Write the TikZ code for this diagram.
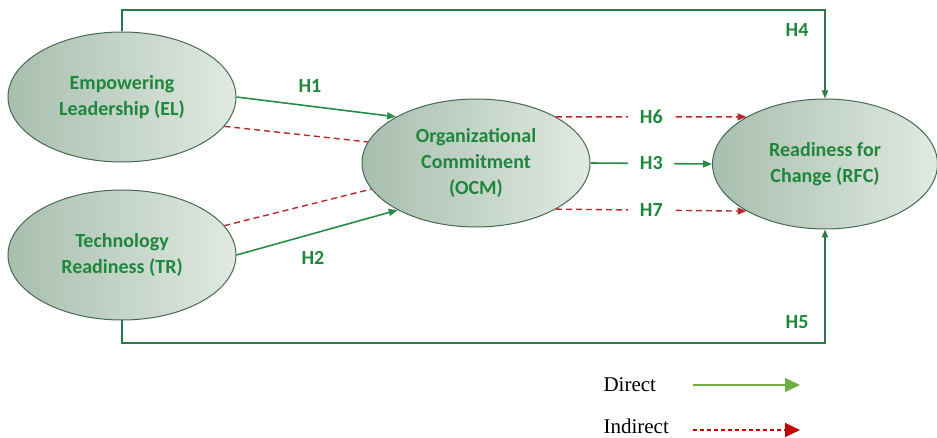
\documentclass[tikz,border=0pt]{standalone}
\usepackage{fontspec}
\setmainfont{Liberation Serif}
\newfontfamily\calib{Carlito}
\usetikzlibrary{shapes.geometric,arrows.meta}
\definecolor{txtgreen}{RGB}{30,135,60}
\definecolor{edgegreen}{RGB}{70,105,82}
\definecolor{fillleft}{RGB}{168,190,174}
\definecolor{fillright}{RGB}{224,234,226}
\definecolor{linegreen}{RGB}{40,140,70}
\definecolor{framegreen}{RGB}{45,120,75}
\definecolor{dashred}{RGB}{185,40,45}
\definecolor{legdgreen}{RGB}{112,173,71}
\definecolor{legdred}{RGB}{192,0,0}
\tikzset{
  construct/.style={ellipse,draw=edgegreen,line width=1pt,left color=fillleft,
    right color=fillright,inner sep=0pt,minimum width=228pt,minimum height=130pt,
    align=center,text=txtgreen,font=\calib\bfseries\fontsize{20}{26}\selectfont},
  hlabel/.style={text=txtgreen,inner sep=3pt,font=\calib\bfseries\fontsize{20}{24}\selectfont},
  hbox/.style={hlabel,fill=white,minimum width=46pt,minimum height=32pt},
  direct/.style={draw=linegreen,line width=1.6pt,-{Triangle[length=9pt,width=7pt]}},
  indirect/.style={draw=dashred,line width=1.4pt,dash pattern=on 6pt off 4pt},
  framewire/.style={draw=framegreen,line width=1.6pt},
  legtext/.style={anchor=west,font=\fontsize{21}{24}\selectfont},
}
\begin{document}
\begin{tikzpicture}[x=1pt,y=-1pt]
  \useasboundingbox (0,0) rectangle (937,438);
  % the four constructs
  \node[construct] (EL) at (122,97) {Empowering\\Leadership (EL)};
  \node[construct] (TR) at (122,255) {Technology\\Readiness (TR)};
  \node[construct,minimum width=228pt,minimum height=128pt] (OCM) at (476,163) {Organizational\\Commitment\\(OCM)};
  \node[construct,minimum width=225pt] (RFC) at (825,164) {Readiness for\\Change (RFC)};
  % direct paths H1, H2
  \draw[direct] (EL.east) -- (OCM.150);
  \draw[direct] (TR.east) -- (OCM.211);
  \node[hlabel] (h1) at (310,86) {H1};
  \node[hlabel] (h2) at (313,258) {H2};
  % indirect links into the mediator
  \draw[indirect] (EL.-16) -- (OCM.169);
  \draw[indirect] (TR.16) -- (OCM.194);
  % mediator to outcome: H6, H3, H7
  \draw[indirect,-{Triangle[length=9pt,width=7pt]}] (OCM.30) -- node[hbox] (h6) {H6} (RFC.149);
  \draw[direct] (OCM.east) -- node[hbox] (h3) {H3} (RFC.west);
  \draw[indirect,-{Triangle[length=9pt,width=7pt]}] (OCM.-30) -- node[hbox] (h7) {H7} (RFC.-149);
  % outer wires H4 (top) and H5 (bottom)
  \coordinate (topwire) at (0,10);
  \coordinate (botwire) at (0,343);
  \draw[framewire,-{Triangle[length=8pt,width=6pt]}] (EL.north) -- (EL.north |- topwire) -| (RFC.north);
  \draw[framewire,-{Triangle[length=8pt,width=6pt]}] (TR.south) -- (TR.south |- botwire) -| (RFC.south);
  \node[hlabel] (h4) at (797,30) {H4};
  \node[hlabel] (h5) at (797,322) {H5};
  % legend
  \node[legtext] (ldir) at (600,385) {Direct};
  \node[legtext] (lind) at (600,426) {Indirect};
  \coordinate (ldirs) at (693,385);
  \coordinate (ldire) at (800,385);
  \coordinate (linds) at (693,430);
  \coordinate (linde) at (800,430);
  \draw[draw=legdgreen,line width=1.4pt,-{Triangle[length=15pt,width=14pt]}] (ldirs) -- (ldire);
  \draw[draw=legdred,line width=1.2pt,dash pattern=on 4pt off 3pt,-{Triangle[length=15pt,width=14pt]}] (linds) -- (linde);
\end{tikzpicture}
\end{document}
